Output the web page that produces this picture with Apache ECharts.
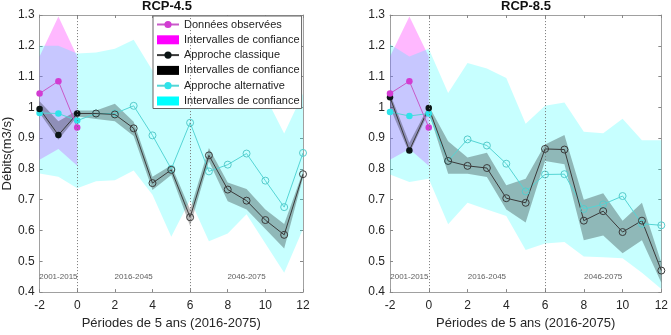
<!DOCTYPE html>
<html><head><meta charset="utf-8">
<script src="https://cdn.jsdelivr.net/npm/echarts@6/dist/echarts.min.js"></script>
<style>html,body{margin:0;padding:0;background:#fff}#c{width:671px;height:335px}</style>
</head><body><div id="c"></div>
<script>
// ---------- data ----------
const periods = [-2,-1,0,1,2,3,4,5,6,7,8,9,10,11,12];
const obsPeriods = [-2,-1,0];
const observed   = [1.045,1.085,0.935];
const observedLo = [0.83,0.865,0.81];
const observedHi = [1.165,1.295,1.165];

// RCP-4.5
const classic45   = [0.995,0.91,0.98,0.98,0.977,0.932,0.754,0.797,0.643,0.844,0.733,0.697,0.634,0.586,0.783];
const classicLo45 = [0.982,0.895,0.97,0.962,0.955,0.907,0.732,0.78,0.615,0.825,0.695,0.668,0.605,0.542,0.772];
const classicHi45 = [1.02,0.955,0.99,0.99,1.012,0.953,0.775,0.812,0.668,0.868,0.756,0.735,0.668,0.621,0.792];
const alt45   = [0.982,0.98,0.957,0.98,0.98,1.005,0.909,0.80,0.95,0.792,0.814,0.85,0.762,0.676,0.852];
const altLo45 = [0.785,0.775,0.737,0.76,0.763,0.795,0.716,0.58,0.70,0.565,0.59,0.653,0.558,0.463,0.605];
const altHi45 = [1.2,1.2,1.175,1.178,1.19,1.22,1.12,1.08,1.1,1.08,1.07,1.06,1.035,0.915,1.045];

// RCP-8.5
const classic85   = [1.033,0.86,0.998,0.826,0.81,0.803,0.705,0.69,0.865,0.863,0.632,0.663,0.595,0.632,0.47];
const classicLo85 = [1.0,0.85,0.985,0.784,0.784,0.774,0.668,0.626,0.826,0.815,0.568,0.584,0.526,0.568,0.43];
const classicHi85 = [1.045,0.885,1.005,0.89,0.837,0.853,0.747,0.768,0.879,0.91,0.70,0.721,0.632,0.69,0.495];
const alt85   = [0.985,0.972,0.98,0.826,0.896,0.876,0.817,0.727,0.782,0.783,0.67,0.685,0.712,0.622,0.617];
const altLo85 = [0.782,0.758,0.768,0.62,0.69,0.668,0.647,0.537,0.558,0.563,0.516,0.513,0.51,0.463,0.41];
const altHi85 = [1.205,1.165,1.19,1.047,1.144,1.126,1.095,0.947,1.005,1.016,0.921,0.916,0.963,0.893,0.893];

const titles = ['RCP-4.5','RCP-8.5'];
const periodLabels  = ['2001-2015','2016-2045','2046-2075'];
const periodCenters = [-1,3,9];
const periodLabelY  = 0.45;
const dividers = [0,6];
const xTitle = 'Périodes de 5 ans (2016-2075)';
const yTitle = 'Débits(m3/s)';
const legendText = {
  obs:'Données observées', ciObs:'Intervalles de confiance',
  cls:'Approche classique', ciCls:'Intervalles de confiance',
  alt:'Approche alternative', ciAlt:'Intervalles de confiance'
};

// ---------- helpers ----------
const FONT = '"Liberation Sans", Arial, Helvetica, sans-serif';
function band(idx, xsArr, lo, hi, key, solid, fill) {
  return {
    type:'custom', name: idx===0 ? key : key + '_r', xAxisIndex:idx, yAxisIndex:idx,
    data: xsArr.map((x,i)=>[x, lo[i], hi[i]]),
    encode:{x:0, y:[1,2]},
    itemStyle:{color:solid}, silent:true, z:1,
    renderItem: function(params, api) {
      if (params.dataIndexInside !== 0) return null;
      const n = params.dataInsideLength;
      const up = [], dn = [];
      for (let i = 0; i < n; i++) {
        const x = api.value(0, i);
        up.push(api.coord([x, api.value(2, i)]));
        dn.push(api.coord([x, api.value(1, i)]));
      }
      return {type:'polygon', shape:{points: up.concat(dn.reverse())},
              style:{fill: fill}};
    }
  };
}
function line(idx, xsArr, ys, key, lineColor, fillColor, openColor) {
  return {
    type:'line', name: idx===0 ? key : key + '_r', xAxisIndex:idx, yAxisIndex:idx,
    data: xsArr.map((x,i)=> x <= 0 ? {value:[x, ys[i]]}
       : {value:[x, ys[i]], symbolSize:7, itemStyle:{color:'rgba(0,0,0,0)', borderColor:openColor, borderWidth:1}}),
    symbol:'circle', symbolSize:6.5, showAllSymbol:true,
    itemStyle:{color:fillColor}, lineStyle:{color:lineColor, width:1}, z:3, silent:true
  };
}
function periodSeries(idx) {
  return {
    type:'scatter', name:'periods' + idx, xAxisIndex:idx, yAxisIndex:idx,
    symbolSize:1, itemStyle:{color:'rgba(0,0,0,0)'}, silent:true, z:4,
    data: periodCenters.map((x,i)=>({value:[x, periodLabelY], name:periodLabels[i]})),
    label:{show:true, formatter:'{b}', position:'inside', fontSize:8, color:'#333', fontFamily:FONT},
    markLine:{symbol:['none','none'], silent:true, label:{show:false},
      lineStyle:{type:[1,2], color:'#777', width:1},
      data: dividers.map(d=>({xAxis:d}))}
  };
}

const MAG = '#ff00ff', CYA = '#00ffff';
const series = [];
[[classic45,classicLo45,classicHi45,alt45,altLo45,altHi45],
 [classic85,classicLo85,classicHi85,alt85,altLo85,altHi85]].forEach((d, idx) => {
  series.push(band(idx, obsPeriods, observedLo, observedHi, 'ciObs', MAG, 'rgba(255,0,255,0.28)'));
  series.push(band(idx, periods, d[4], d[5], 'ciAlt', CYA, 'rgba(0,255,255,0.22)'));
  series.push(band(idx, periods, d[1], d[2], 'ciCls', '#000000', 'rgba(0,0,0,0.28)'));
  series.push(line(idx, periods, d[3], 'alt', '#55d5d5', '#2fe3ea', '#55cccc'));
  series.push(line(idx, periods, d[0], 'cls', '#3a3a3a', '#0b1515', '#3a3a3a'));
  series.push(line(idx, obsPeriods, observed, 'obs', '#c85ac8', '#d23cd2', '#d23cd2'));
  series.push(periodSeries(idx));
});

const gridLefts = [31, 390];
const AX = '#a0a0a0', TXT = '#262626';
function xAx(idx, top) {
  return {gridIndex:idx, type:'value', min:-2, max:12, interval:2, position: top ? 'top' : 'bottom',
    axisLine:{onZero:false, lineStyle:{color:AX}}, axisTick:{inside:true, length:3, lineStyle:{color:'#888'}},
    axisLabel:{show:!top, fontSize:12, color:TXT, margin:8, fontFamily:FONT}, splitLine:{show:false},
    name: top ? '' : xTitle, nameLocation:'middle', nameGap:22,
    nameTextStyle:{fontSize:13, color:TXT, fontFamily:FONT}};
}
function yAx(idx, right) {
  return {gridIndex:idx, type:'value', min:0.4, max:1.3, interval:0.1, position: right ? 'right' : 'left',
    axisLine:{onZero:false, lineStyle:{color:AX}}, axisTick:{inside:true, length:3, lineStyle:{color:'#888'}},
    axisLabel:{show:!right, fontSize:12, color:TXT, margin:5, fontFamily:FONT,
      formatter: v => String(+v.toFixed(1))}, splitLine:{show:false},
    name: (!right && idx===0) ? yTitle : '', nameLocation:'middle', nameGap:18,
    nameTextStyle:{fontSize:13, color:TXT, fontFamily:FONT}};
}

const chart = echarts.init(document.getElementById('c'), null, {renderer:'canvas'});
chart.setOption({
  animation:false,
  backgroundColor:'#fff',
  textStyle:{fontFamily:FONT},
  title: titles.map((t,i)=>({text:t, left: gridLefts[i] + 136, top:0, padding:0, textAlign:'center',
    textStyle:{fontSize:13, fontWeight:'bold', color:'#111', fontFamily:FONT}})),
  grid: gridLefts.map(l => ({left:l, width:272, top:15, height:285})),
  xAxis:[xAx(0,false), xAx(1,false), xAx(0,true), xAx(1,true)],
  yAxis:[yAx(0,false), yAx(1,false), yAx(0,true), yAx(1,true)],
  legend:{
    left:153, top:16, orient:'vertical', selectedMode:false,
    backgroundColor:'#fff', borderColor:'#666', borderWidth:1, padding:[3,2,2,3],
    itemWidth:22, itemHeight:9, itemGap:4.3,
    textStyle:{fontSize:11, color:'#222', fontFamily:FONT, lineHeight:10},
    formatter: n => legendText[n],
    data:[
      {name:'obs'},
      {name:'ciObs', icon:'rect', itemStyle:{color:MAG, opacity:1}},
      {name:'cls'},
      {name:'ciCls', icon:'rect', itemStyle:{color:'#000', opacity:1}},
      {name:'alt'},
      {name:'ciAlt', icon:'rect', itemStyle:{color:CYA, opacity:1}}
    ]
  },
  series
});
</script></body></html>
